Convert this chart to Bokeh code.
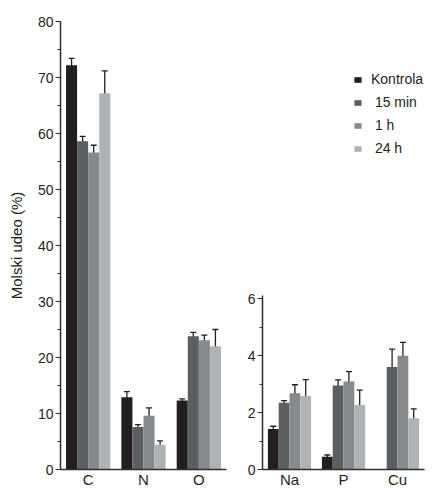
import math
from bokeh.plotting import figure
from bokeh.models import (ColumnDataSource, FactorRange, Range1d, Whisker, TeeHead,
                          Legend, LegendItem, SingleIntervalTicker)
from bokeh.transform import dodge
from bokeh.layouts import row
from bokeh.embed import file_html
from bokeh.resources import INLINE

# ---------------- data ----------------
series = ["Kontrola", "15 min", "1 h", "24 h"]
legend_labels = ["Kontrola", "\u00a015 min", "\u00a01 h", "\u00a024 h"]
colors = ["#231f20", "#5b5f62", "#868a8c", "#afb3b6"]
offsets = [-0.3, -0.1, 0.1, 0.3]

left_cats = ["C", "N", "O"]
left_kontrola = [72.2, 12.9, 12.3]
left_kontrola_err = [1.2, 1.0, 0.3]
left_15min = [58.6, 7.6, 23.8]
left_15min_err = [0.9, 0.4, 0.7]
left_1h = [56.6, 9.6, 23.1]
left_1h_err = [1.3, 1.4, 0.9]
left_24h = [67.2, 4.4, 22.0]
left_24h_err = [4.0, 0.7, 3.0]

right_cats = ["Na", "P", "Cu"]
right_kontrola = [1.42, 0.45, float("nan")]
right_kontrola_err = [0.10, 0.06, float("nan")]
right_15min = [2.35, 2.95, 3.60]
right_15min_err = [0.07, 0.20, 0.63]
right_1h = [2.68, 3.09, 4.00]
right_1h_err = [0.30, 0.35, 0.47]
right_24h = [2.58, 2.27, 1.80]
right_24h_err = [0.58, 0.52, 0.33]

left_vals = [left_kontrola, left_15min, left_1h, left_24h]
left_errs = [left_kontrola_err, left_15min_err, left_1h_err, left_24h_err]
right_vals = [right_kontrola, right_15min, right_1h, right_24h]
right_errs = [right_kontrola_err, right_15min_err, right_1h_err, right_24h_err]

FONT = "Liberation Sans"
TXT = "#231f20"
AX = "#2e2e2e"


def style_axes(p, y_interval):
    p.xgrid.grid_line_color = None
    p.ygrid.grid_line_color = None
    p.outline_line_color = None
    p.background_fill_color = "white"
    p.border_fill_color = "white"
    p.yaxis.ticker = SingleIntervalTicker(interval=y_interval, num_minor_ticks=2)
    for ax in p.yaxis:
        ax.axis_line_color = AX
        ax.axis_line_width = 1.5
        ax.major_tick_line_color = AX
        ax.major_tick_line_width = 1.2
        ax.major_tick_in = 0
        ax.major_tick_out = 5
        ax.minor_tick_line_color = AX
        ax.minor_tick_line_width = 1.2
        ax.minor_tick_in = 0
        ax.minor_tick_out = 3
        ax.major_label_text_font = FONT
        ax.major_label_text_font_size = "14px"
        ax.major_label_text_color = TXT
        ax.major_label_standoff = 2
    for ax in p.xaxis:
        ax.axis_line_color = AX
        ax.axis_line_width = 1.5
        ax.major_tick_line_color = None
        ax.minor_tick_line_color = None
        ax.major_tick_out = 0
        ax.minor_tick_out = 0
        ax.major_label_text_font = FONT
        ax.major_label_text_font_size = "15px"
        ax.major_label_text_color = TXT
        ax.major_label_standoff = 1


def add_bars(p, cats, vals, errs):
    renderers = []
    for name, col, off, v, e in zip(series, colors, offsets, vals, errs):
        keep = [i for i in range(len(cats)) if not math.isnan(v[i])]
        src = ColumnDataSource(dict(
            cat=[cats[i] for i in keep],
            top=[v[i] for i in keep],
            upper=[v[i] + e[i] for i in keep],
            lower=[v[i] - e[i] for i in keep],
        ))
        r = p.vbar(x=dodge("cat", off, range=p.x_range), top="top", width=0.2,
                   source=src, fill_color=col, line_color=None)
        w = Whisker(base=dodge("cat", off, range=p.x_range), upper="upper",
                    lower="lower", source=src, line_color=TXT, line_width=1.3,
                    upper_head=TeeHead(size=6, line_color=TXT, line_width=1.3),
                    lower_head=TeeHead(size=6, line_color=TXT, line_width=1.3))
        p.add_layout(w)
        renderers.append(r)
    return renderers


H = 490

# ---------------- left panel ----------------
p1 = figure(width=240, height=H, x_range=FactorRange(*left_cats, range_padding=0),
            y_range=Range1d(0, 80), output_backend="svg", toolbar_location=None,
            min_border_left=60, min_border_right=14, min_border_top=21,
            min_border_bottom=18)
add_bars(p1, left_cats, left_vals, left_errs)
style_axes(p1, 10)
p1.yaxis.axis_label = "Molski udeo (%)"
p1.yaxis.axis_label_text_font = FONT
p1.yaxis.axis_label_text_font_size = "15px"
p1.yaxis.axis_label_text_font_style = "normal"
p1.yaxis.axis_label_text_color = TXT
p1.yaxis.axis_label_standoff = 10

# ---------------- right panel (same frame, own scale; axis limited to 0-6) ----------------
p2 = figure(width=187, height=H, x_range=FactorRange(*right_cats, range_padding=0),
            y_range=Range1d(0, 15.75), output_backend="svg", toolbar_location=None,
            min_border_left=22, min_border_right=3, min_border_top=21,
            min_border_bottom=18)
rr = add_bars(p2, right_cats, right_vals, right_errs)
style_axes(p2, 2)
p2.yaxis.bounds = (0, 6.1)

legend = Legend(items=[LegendItem(label=lab, renderers=[r]) for lab, r in zip(legend_labels, rr)],
                location=(91, 313), orientation="vertical")
legend.background_fill_alpha = 0
legend.border_line_color = None
legend.padding = 0
legend.margin = 0
legend.label_text_font = FONT
legend.label_text_font_size = "14px"
legend.label_text_color = TXT
legend.glyph_width = 9
legend.glyph_height = 7
legend.label_standoff = 9
legend.label_height = 16
legend.spacing = 7
p2.add_layout(legend)

layout = row(p1, p2)
open("out.html", "w").write(file_html(layout, INLINE))
